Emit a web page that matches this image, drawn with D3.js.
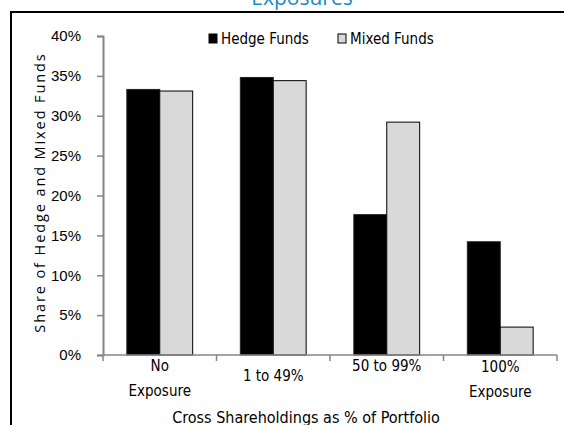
<!DOCTYPE html>
<html>
<head>
<meta charset="utf-8">
<script src="https://cdn.jsdelivr.net/npm/d3@7"></script>
<style>
  body { margin: 0; background: #fff; }
  svg { display: block; font-family: "Liberation Sans Narrow", "DejaVu Sans Condensed", sans-serif; }
</style>
</head>
<body>
<div id="chart"></div>
<script>
// Data
const categories = ["No Exposure", "1 to 49%", "50 to 99%", "100% Exposure"];
const categoryLines = [["No", "Exposure"], ["1 to 49%"], ["50 to 99%"], ["100%", "Exposure"]];
const seriesNames = ["Hedge Funds", "Mixed Funds"];
const hedgeFunds = [33.3, 34.8, 17.6, 14.2];
const mixedFunds = [33.1, 34.4, 29.2, 3.5];
const yTicks = [0, 5, 10, 15, 20, 25, 30, 35, 40];

function drawChart(containerId) {
  const W = 564, H = 425;
  const margin = { top: 36, right: 7, bottom: 70, left: 103 },
        width = W - margin.left - margin.right,
        height = H - margin.top - margin.bottom;

  d3.select(`#${containerId}`).html("");

  const root = d3.select(`#${containerId}`)
    .append("svg")
      .attr("width", W)
      .attr("height", H);

  // outer chart frame (runs off the right and bottom edges)
  root.append("rect")
    .attr("x", 11).attr("y", 12)
    .attr("width", W + 20).attr("height", H + 20)
    .attr("fill", "none")
    .attr("stroke", "#000")
    .attr("stroke-width", 2);

  // title, mostly cut off at the top
  root.append("text")
    .attr("x", 302)
    .attr("y", 5)
    .attr("text-anchor", "middle")
    .style("font-family", "'Open Sans', sans-serif")
    .style("font-size", "21px")
    .style("fill", "#1a8ac6")
    .text("Exposures");

  const svg = root.append("g")
    .attr("transform", `translate(${margin.left},${margin.top})`);

  const x = d3.scaleBand()
    .domain(categories)
    .range([0, width])
    .paddingInner(0)
    .paddingOuter(0);

  const xInner = d3.scaleBand()
    .domain(seriesNames)
    .range([x.bandwidth() * 0.21, x.bandwidth() * 0.79]);

  const y = d3.scaleLinear()
    .domain([0, 40])
    .range([height, 0]);

  // bars
  const colors = { "Hedge Funds": "#000", "Mixed Funds": "#d9d9d9" };
  const rows = categories.map((c, i) => ({ cat: c, vals: [
    { name: "Hedge Funds", v: hedgeFunds[i] },
    { name: "Mixed Funds", v: mixedFunds[i] }
  ]}));

  svg.append("g")
    .selectAll("g")
    .data(rows)
    .join("g")
      .attr("transform", d => `translate(${x(d.cat)},0)`)
    .selectAll("rect")
    .data(d => d.vals)
    .join("rect")
      .attr("x", d => xInner(d.name))
      .attr("y", d => y(d.v))
      .attr("width", xInner.bandwidth())
      .attr("height", d => height - y(d.v))
      .attr("fill", d => colors[d.name])
      .attr("stroke", d => d.name === "Hedge Funds" ? "#222" : "#000")
      .attr("stroke-width", 1);

  // y axis
  const yAxis = svg.append("g")
    .call(d3.axisLeft(y)
      .tickValues(yTicks)
      .tickSize(6)
      .tickPadding(16)
      .tickFormat(d => d + "%"));
  yAxis.select(".domain").attr("stroke", "#868686").attr("stroke-width", 2);
  yAxis.selectAll(".tick line").attr("stroke", "#868686").attr("stroke-width", 1.5);
  yAxis.selectAll(".tick text")
    .style("font-size", "15px")
    .style("font-family", null)
    .attr("fill", "#000");

  // x axis: ticks sit on category boundaries
  const boundaries = categories.map(c => x(c)).concat([width]);
  const xAxis = svg.append("g")
    .attr("transform", `translate(0,${height})`);
  xAxis.append("line")
    .attr("x1", 0).attr("x2", width)
    .attr("stroke", "#868686").attr("stroke-width", 1.5);
  xAxis.selectAll("line.tk")
    .data(boundaries)
    .join("line")
      .attr("class", "tk")
      .attr("x1", d => d).attr("x2", d => d)
      .attr("y1", 0).attr("y2", 6)
      .attr("stroke", "#868686").attr("stroke-width", 1.5);

  // vertical placement of each wrapped label (Excel staggers them)
  const labelTop = [1, 11, 1, 2];
  xAxis.selectAll("text.cat")
    .data(categoryLines)
    .join("text")
      .attr("class", "cat")
      .attr("text-anchor", "middle")
      .style("font-size", "15px")
      .attr("transform", (d, i) => `translate(${x(categories[i]) + x.bandwidth() / 2},${labelTop[i]})`)
    .selectAll("tspan")
    .data(d => d)
    .join("tspan")
      .attr("x", 0)
      .attr("y", (d, j) => 15 + j * 25)
      .text(d => d);

  // axis titles
  svg.append("text")
    .attr("transform", "rotate(-90)")
    .attr("x", -height / 2 + 3)
    .attr("y", -58)
    .attr("text-anchor", "middle")
    .style("font-family", "'Open Sans', sans-serif")
    .style("font-size", "14.5px")
    .style("letter-spacing", "1.9px")
    .text("Share of Hedge and Mixed Funds");

  svg.append("text")
    .attr("x", 203)
    .attr("y", height + 68)
    .attr("text-anchor", "middle")
    .style("font-size", "16px")
    .text("Cross Shareholdings as % of Portfolio");

  // legend
  const legend = root.append("g").attr("transform", "translate(209,34)");
  const items = legend.selectAll("g")
    .data(seriesNames)
    .join("g")
      .attr("transform", (d, i) => `translate(${i * 129},0)`);
  items.append("rect")
    .attr("width", 8).attr("height", 9)
    .attr("fill", d => colors[d])
    .attr("stroke", "#000")
    .attr("stroke-width", 1);
  items.append("text")
    .attr("x", 12)
    .attr("y", 10)
    .style("font-size", "15px")
    .text(d => d);
}

document.addEventListener("DOMContentLoaded", function () {
  drawChart("chart");
});
</script>
</body>
</html>
